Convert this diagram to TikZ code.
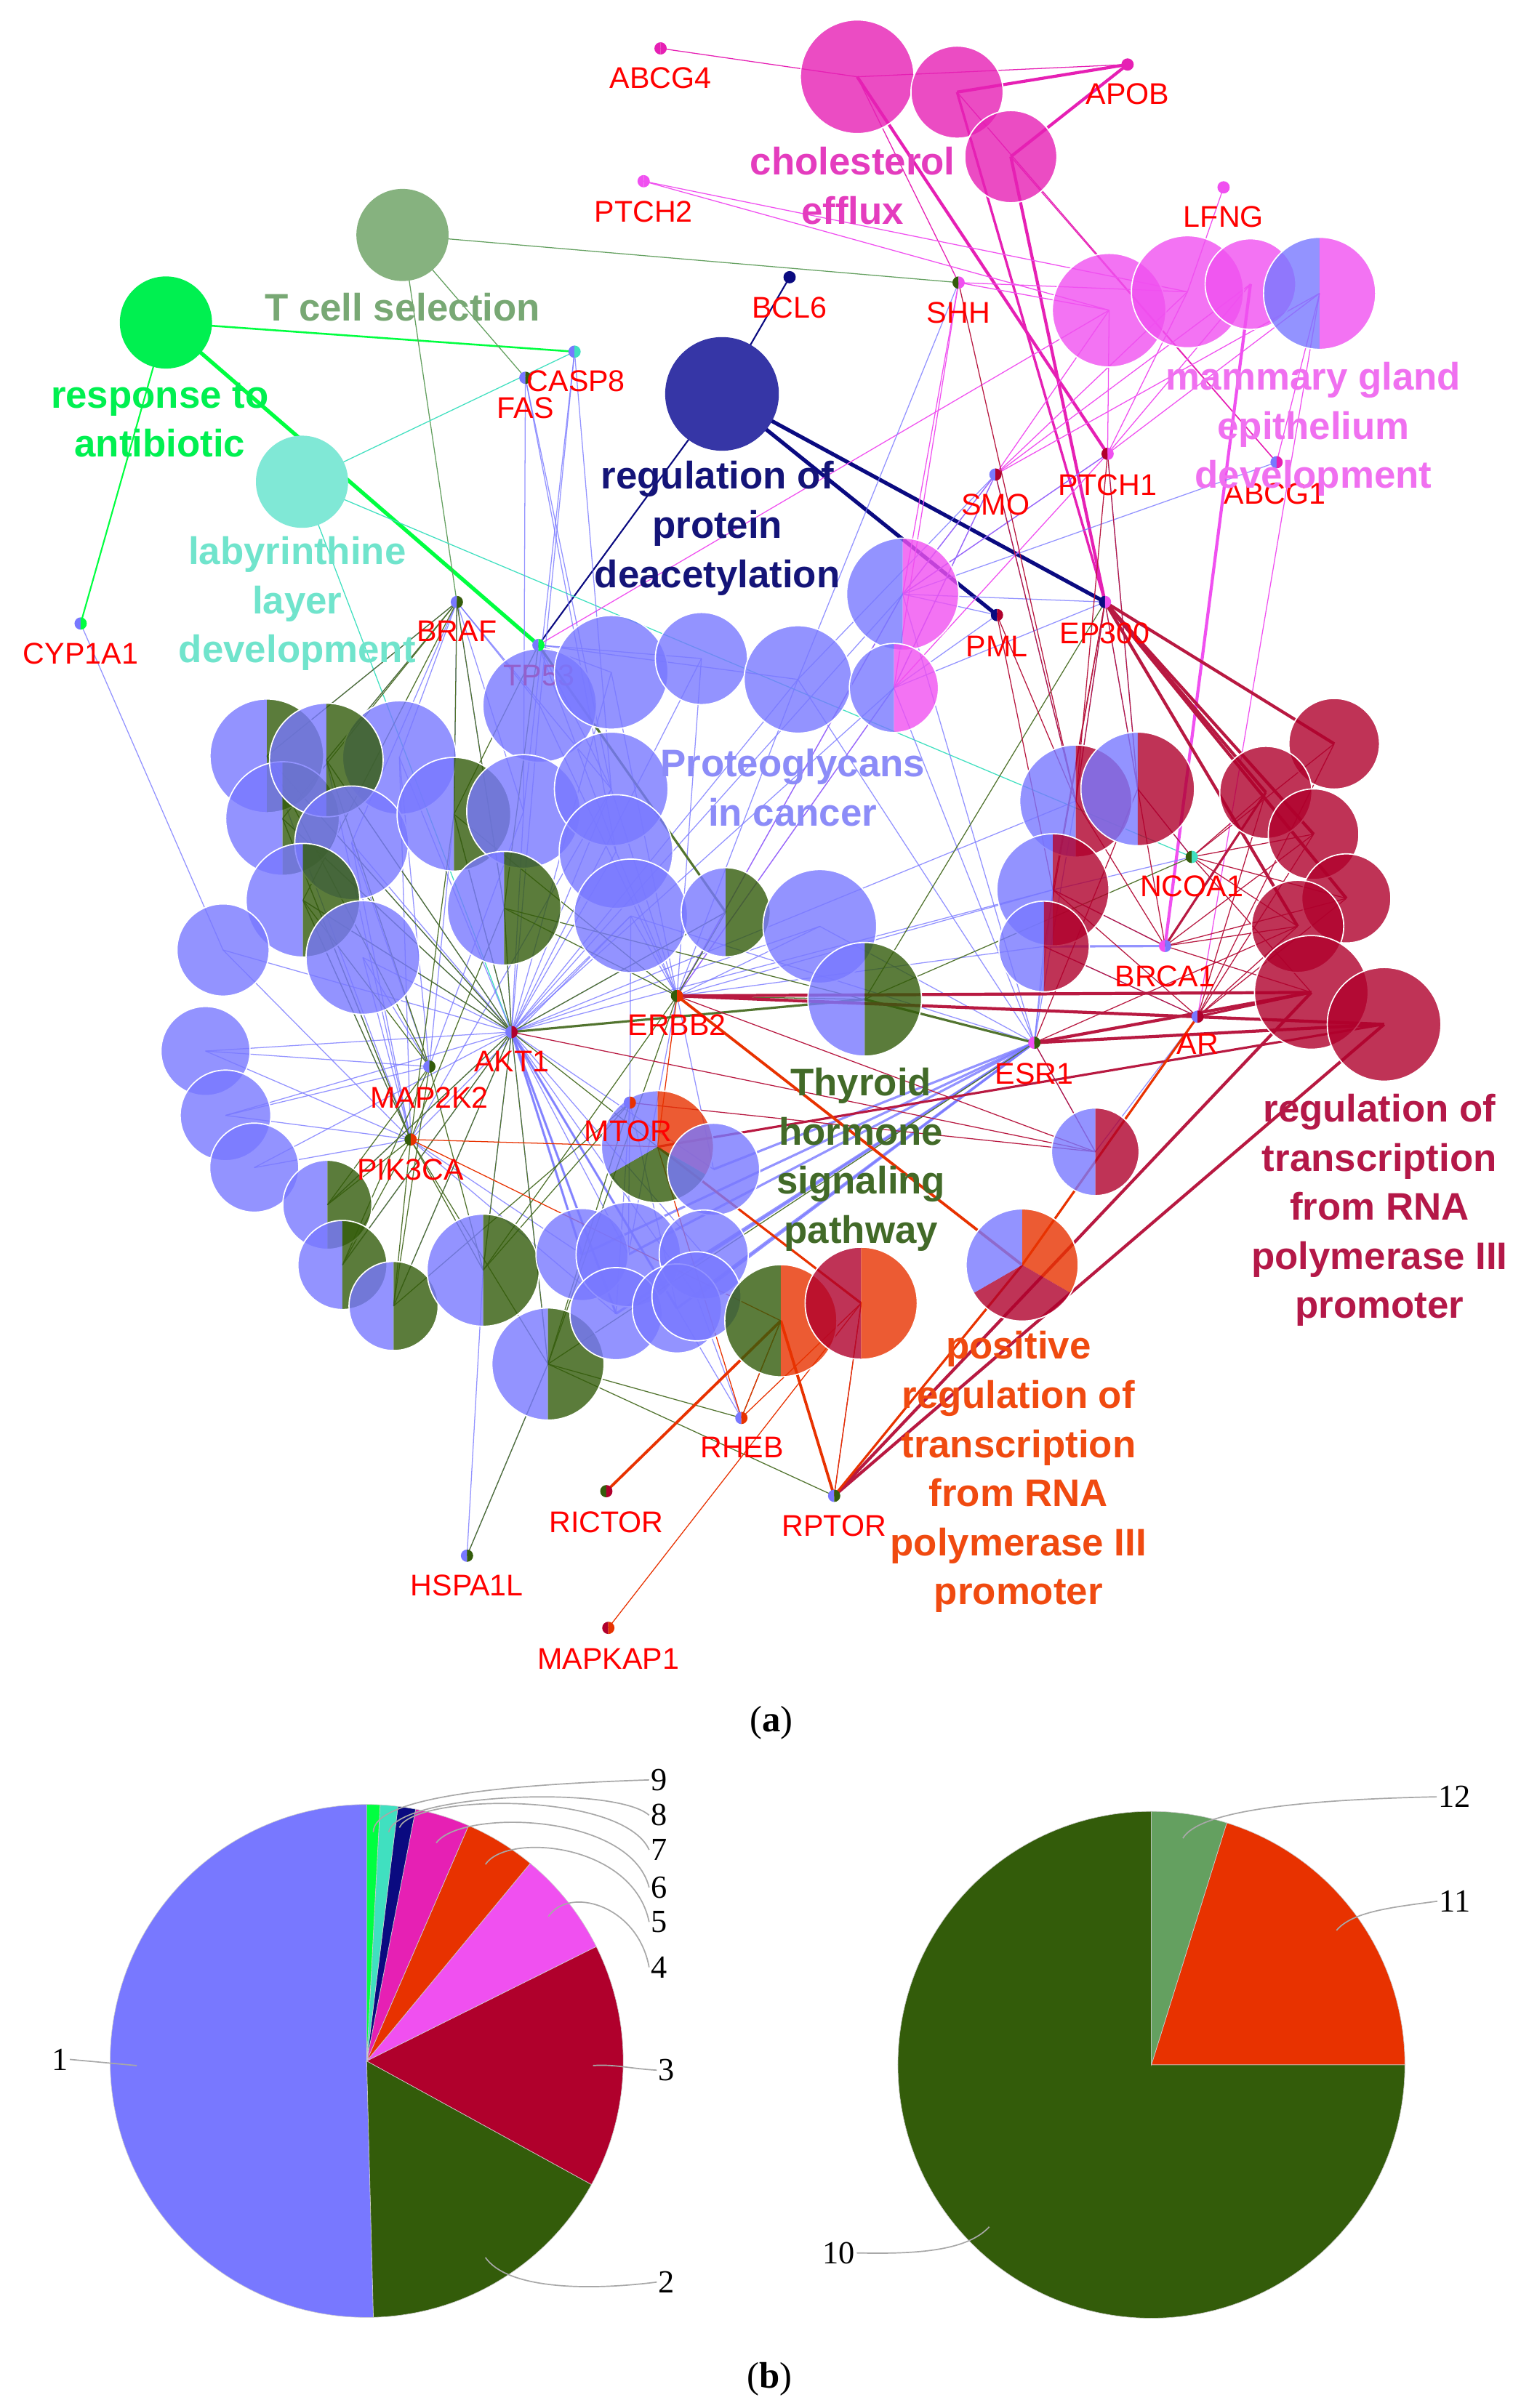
\documentclass[tikz,border=0pt]{standalone}
\usepackage{fontspec}
\setmainfont{Liberation Sans}
\newfontfamily\numfont{Liberation Serif}
\pgfdeclarelayer{paper}
\pgfdeclarelayer{bg}
\pgfsetlayers{paper,bg,main}
\definecolor{cblue}{HTML}{7878FF}
\definecolor{colive}{HTML}{335C0A}
\definecolor{ccrim}{HTML}{B0002C}
\definecolor{corange}{HTML}{E83200}
\definecolor{cviolet}{HTML}{F050F0}
\definecolor{cpink}{HTML}{E620B4}
\definecolor{cnavy}{HTML}{0A0A80}
\definecolor{cturq}{HTML}{40E0C0}
\definecolor{cgreen}{HTML}{00FF40}
\definecolor{ctcell}{HTML}{64A060}
\definecolor{ftcell}{HTML}{86B27F}
\definecolor{fturq}{HTML}{80E8D6}
\definecolor{fnavy}{HTML}{3636A6}
\definecolor{lpink}{HTML}{E43CBE}
\definecolor{ltcell}{HTML}{78A874}
\definecolor{lgreen}{HTML}{00F050}
\definecolor{lnavy}{HTML}{141478}
\definecolor{lviolet}{HTML}{F070F0}
\definecolor{lturq}{HTML}{70E4CC}
\definecolor{lblue}{HTML}{8C8CF8}
\definecolor{lolive}{HTML}{426A28}
\definecolor{lcrim}{HTML}{B41848}
\definecolor{lorange}{HTML}{F04A10}
\definecolor{gred}{HTML}{FF0000}
\definecolor{leader}{HTML}{A8A8A8}
\tikzset{
  e/.style={line width=0.6pt},
  eb/.style={e, draw=cblue, draw opacity=0.8},
  eg/.style={e, draw=colive!85!white},
  ec/.style={e, draw=ccrim!90!white},
  eo/.style={e, draw=corange},
  ev/.style={e, draw=cviolet},
  ep/.style={e, draw=cpink},
  en/.style={e, draw=cnavy},
  egr/.style={e, draw=cgreen},
  et/.style={e, draw=ctcell},
  etq/.style={e, draw=cturq},
  solo/.style={circle,minimum size=60pt,inner sep=0pt},
  glab/.style={text=gred, font=\fontsize{19.5}{22}\selectfont, inner sep=0pt},
  tlab/.style={font=\bfseries\fontsize{25}{32}\selectfont, align=center, inner sep=0pt},
  nlab/.style={font=\numfont\fontsize{21}{21}\selectfont, inner sep=1pt},
  lead/.style={draw=leader, line width=0.8pt},
  slice/.style={draw=gray!40, line width=0.3pt}
}
\newcommand{\fpie}[5]{%
  \node[circle,minimum size=#4*2pt,inner sep=0pt,fill=#5,fill opacity=0.8,draw=white,line width=0.8pt] (#1) at (#2,#3) {};}
\newcommand{\hpie}[6]{%
  \node[circle,minimum size=#4*2pt,inner sep=0pt] (#1) at (#2,#3) {};
  \begin{scope}[shift={(#2,#3)},yscale=-1]
    \fill[#5,fill opacity=0.8] (0,0) -- (90:#4) arc (90:270:#4) -- cycle;
    \fill[#6,fill opacity=0.8] (0,0) -- (90:#4) arc (90:-90:#4) -- cycle;
    \draw[white,line width=0.8pt] (0,0) circle (#4);
  \end{scope}}
\newcommand{\tpie}[7]{%
  \node[circle,minimum size=#4*2pt,inner sep=0pt] (#1) at (#2,#3) {};
  \begin{scope}[shift={(#2,#3)},yscale=-1]
    \fill[#5,fill opacity=0.8] (0,0) -- (90:#4) arc (90:-30:#4) -- cycle;
    \fill[#6,fill opacity=0.8] (0,0) -- (-30:#4) arc (-30:-150:#4) -- cycle;
    \fill[#7,fill opacity=0.8] (0,0) -- (-150:#4) arc (-150:-270:#4) -- cycle;
    \draw[white,line width=0.8pt] (0,0) circle (#4);
  \end{scope}}
\newcommand{\gdot}[5]{%
  \node[circle,minimum size=8pt,inner sep=0pt] (#1) at (#2,#3) {};
  \begin{scope}[shift={(#2,#3)},yscale=-1]
    \fill[#4] (0,0) -- (90:4) arc (90:270:4) -- cycle;
    \fill[#5] (0,0) -- (90:4) arc (90:-90:4) -- cycle;
  \end{scope}}
\newcommand{\pslice}[4]{\fill[#1,slice] (0,0) -- (#2:#4) arc (#2:#3:#4) -- cycle;}
\begin{document}
\begin{tikzpicture}[x=1pt,y=-1pt]
\useasboundingbox (0,0) rectangle (990,1568);
\begin{pgfonlayer}{paper}
\fill[white] (0,0) rectangle (990,1568);
\end{pgfonlayer}
% label hidden under circles
\node[glab] (l-tp53) at (351,440) {TP53};
% ---------- term circles ----------
\fpie{ch1}{558}{50}{37}{cpink}
\fpie{ch2}{623}{60}{30}{cpink}
\fpie{ch3}{658}{102}{30}{cpink}
\fpie{ma1}{722}{202}{37}{cviolet}
\fpie{ma2}{773}{190}{36.5}{cviolet}
\fpie{ma3}{814}{185}{29.5}{cviolet}
\hpie{ma4}{859}{191}{36.5}{cblue}{cviolet}
\node[solo,fill=ftcell] (tcell) at (262,153) {};
\node[solo,fill=lgreen] (resp) at (108,210) {};
\node[solo,fill=fturq] (laby) at (196.6,313.7) {};
\node[solo,minimum size=74pt,fill=fnavy] (deac) at (470,256.5) {};
% proteoglycans cluster
\fpie{p11}{351.3}{459.4}{37}{cblue}
\fpie{p12}{397.9}{437.8}{37}{cblue}
\fpie{p13}{456.6}{428.8}{30}{cblue}
\fpie{p19}{519.4}{442.4}{35}{cblue}
\hpie{v1}{587.6}{386.9}{36.5}{cblue}{cviolet}
\hpie{v2}{581.9}{448}{29}{cblue}{cviolet}
\hpie{g1}{173.7}{492.2}{37}{cblue}{colive}
\fpie{p3}{260}{493.3}{37}{cblue}
\hpie{g4}{183.9}{533}{37}{cblue}{colive}
\hpie{g2}{212.4}{494.9}{37}{cblue}{colive}
\fpie{p5}{228.9}{548.8}{37}{cblue}
\hpie{g6}{295.5}{530.2}{37}{cblue}{colive}
\fpie{p17}{340.8}{528.4}{37}{cblue}
\fpie{p14}{397.9}{513.7}{37}{cblue}
\fpie{p15}{401}{554.5}{37}{cblue}
\fpie{p16}{410.6}{596.4}{37}{cblue}
\hpie{g7}{328.2}{591.4}{37}{cblue}{colive}
\hpie{g8}{197.2}{586.2}{37}{cblue}{colive}
\fpie{p9}{236.2}{623.5}{37}{cblue}
\fpie{p10}{145.2}{618.6}{30}{cblue}
\hpie{g18}{472.4}{594}{29}{cblue}{colive}
\fpie{p20}{533.7}{603.2}{37}{cblue}
\hpie{g21}{562.9}{650.7}{37}{cblue}{colive}
\fpie{l1}{133.8}{684.4}{29}{cblue}
\fpie{l2}{146.8}{726.3}{29.5}{cblue}
\fpie{l3}{165.5}{760.3}{29}{cblue}
\hpie{g22}{213.1}{784.5}{29}{cblue}{colive}
\hpie{g23}{222.9}{823.7}{29}{cblue}{colive}
\hpie{g24}{256.2}{850.4}{29}{cblue}{colive}
\hpie{g25}{314.5}{827.1}{36.5}{cblue}{colive}
\hpie{g26}{356.7}{888.2}{36.5}{cblue}{colive}
\tpie{mt}{428}{746.7}{36.5}{corange}{colive}{cblue}
\fpie{k7}{464.5}{761.4}{30}{cblue}
\fpie{k1}{378.9}{816.9}{30}{cblue}
\fpie{k2}{409}{816.9}{34}{cblue}
\fpie{k5}{458.1}{816.9}{29}{cblue}
\fpie{k3}{401}{855.4}{30}{cblue}
\fpie{k4}{440.7}{852}{29}{cblue}
\fpie{k6}{453.4}{844.1}{29}{cblue}
\hpie{o1}{508.3}{860}{36.5}{colive}{corange}
\hpie{o2}{560.6}{848.6}{36.5}{ccrim}{corange}
\tpie{o3}{665.4}{823.7}{36.5}{corange}{ccrim}{cblue}
\hpie{r5}{713}{750}{28.5}{cblue}{ccrim}
% right cluster
\hpie{r1}{700.3}{521.6}{36.5}{cblue}{ccrim}
\hpie{r2}{740.6}{513.7}{37}{cblue}{ccrim}
\hpie{r3}{685.4}{579.4}{36.5}{cblue}{ccrim}
\hpie{r4}{679.6}{616.3}{29.5}{cblue}{ccrim}
\fpie{c2}{868.5}{484.3}{29.5}{ccrim}
\fpie{c1}{824}{516}{30}{ccrim}
\fpie{c3}{855.1}{543.2}{29.5}{ccrim}
\fpie{c4}{876.4}{585}{29}{ccrim}
\fpie{c5}{844.7}{603.2}{30}{ccrim}
\fpie{c6}{853.6}{646.2}{37}{ccrim}
\fpie{c7}{901}{667}{37}{ccrim}
% ---------- gene nodes ----------
\gdot{abcg4}{430}{31.5}{cpink}{cpink}
\gdot{apob}{734}{42}{cpink}{cpink}
\gdot{ptch2}{419}{118}{cviolet}{cviolet}
\gdot{lfng}{796.5}{122}{cviolet}{cviolet}
\gdot{bcl6}{514}{180.5}{cnavy}{cnavy}
\gdot{shh}{624}{184}{colive}{cviolet}
\gdot{casp8}{374}{229}{cblue}{cturq}
\gdot{fas}{342}{246}{cblue}{colive}
\gdot{smo}{648}{309}{cblue}{ccrim}
\gdot{ptch1}{721}{295.5}{ccrim}{cviolet}
\gdot{abcg1}{831}{301}{cblue}{cpink}
\gdot{cyp1a1}{52.5}{406}{cblue}{cgreen}
\gdot{braf}{297.4}{392}{cblue}{colive}
\gdot{tp53}{350.5}{420}{cblue}{cgreen}
\gdot{pml}{649}{400.5}{cnavy}{ccrim}
\gdot{ep300}{719.3}{392}{cnavy}{cviolet}
\gdot{ncoa1}{775.8}{558}{colive}{cturq}
\gdot{brca1}{758.4}{616}{cviolet}{cblue}
\gdot{ar}{779.6}{662}{cblue}{ccrim}
\gdot{erbb2}{440.7}{648.5}{colive}{corange}
\gdot{akt1}{333}{672}{cblue}{ccrim}
\gdot{esr1}{673.3}{679}{cviolet}{colive}
\gdot{map2k2}{279.5}{694.5}{cblue}{colive}
\gdot{mtor}{410}{718}{cblue}{corange}
\gdot{pik3ca}{267.3}{742}{colive}{corange}
\gdot{rheb}{482.6}{923.3}{cblue}{corange}
\gdot{rictor}{394.7}{971}{colive}{ccrim}
\gdot{rptor}{543}{974}{cblue}{colive}
\gdot{hspa1l}{304}{1013}{cblue}{colive}
\gdot{mapkap1}{396}{1060}{ccrim}{corange}
% ---------- gene labels ----------
\node[glab] (l-abcg4) at (430,51) {ABCG4};
\node[glab] (l-apob) at (734,61) {APOB};
\node[glab] (l-ptch2) at (419,138) {PTCH2};
\node[glab] (l-lfng) at (796.5,141) {LFNG};
\node[glab] (l-bcl6) at (514,200.5) {BCL6};
\node[glab] (l-shh) at (624,203.5) {SHH};
\node[glab] (l-casp8) at (375,248) {CASP8};
\node[glab] (l-fas) at (342,265.5) {FAS};
\node[glab] (l-smo) at (648,328.5) {SMO};
\node[glab] (l-ptch1) at (721,316) {PTCH1};
\node[glab] (l-abcg1) at (830,321.5) {ABCG1};
\node[glab] (l-cyp1a1) at (52.5,425.5) {CYP1A1};
\node[glab] (l-braf) at (297.4,411) {BRAF};
\node[glab] (l-pml) at (649,421) {PML};
\node[glab] (l-ep300) at (719.3,412.5) {EP300};
\node[glab] (l-ncoa1) at (775.8,577) {NCOA1};
\node[glab] (l-brca1) at (758.4,636) {BRCA1};
\node[glab] (l-ar) at (779.6,680) {AR};
\node[glab] (l-erbb2) at (440.7,667.5) {ERBB2};
\node[glab] (l-akt1) at (333,691) {AKT1};
\node[glab] (l-esr1) at (673.3,699) {ESR1};
\node[glab] (l-map2k2) at (279.5,714.5) {MAP2K2};
\node[glab] (l-mtor) at (409,736.5) {MTOR};
\node[glab] (l-pik3ca) at (267.3,761.5) {PIK3CA};
\node[glab] (l-rheb) at (483,942.5) {RHEB};
\node[glab] (l-rictor) at (394.7,991) {RICTOR};
\node[glab] (l-rptor) at (543,993.5) {RPTOR};
\node[glab] (l-hspa1l) at (304,1032.5) {HSPA1L};
\node[glab] (l-mapkap1) at (396,1080) {MAPKAP1};
% ---------- term labels ----------
\node[tlab, text=lpink] (t-chol) at (555,121) {cholesterol\\efflux};
\node[tlab, text=ltcell] (t-tcell) at (262,200) {T cell selection};
\node[tlab, text=lgreen] (t-resp) at (104,273.5) {response to\\antibiotic};
\node[tlab, text=lnavy] (t-deac) at (467,344) {regulation of\\protein\\deacetylation};
\node[tlab, text=lviolet] (t-mam) at (855,279.5) {mammary gland\\epithelium\\development};
\node[tlab, text=lturq] (t-laby) at (193.5,393) {labyrinthine\\layer\\development};
\node[tlab, text=lblue] (t-prot) at (516,513) {Proteoglycans\\in cancer};
\node[tlab, text=lolive] (t-thy) at (560.5,755) {Thyroid\\hormone\\signaling\\pathway};
\node[tlab, text=lcrim] (t-rna3) at (898,788) {regulation of\\transcription\\from RNA\\polymerase III\\promoter};
\node[tlab, text=lorange] (t-pos) at (663,958.5) {positive\\regulation of\\transcription\\from RNA\\polymerase III\\promoter};
% ---------- edges ----------
\begin{pgfonlayer}{bg}
% navy
\draw[en, line width=2.5pt] (deac.center) -- (pml.center);
\draw[en, line width=2.5pt] (deac.center) -- (ep300.center);
\draw[en, line width=1pt] (deac.center) -- (bcl6.center);
\draw[en, line width=1pt] (deac.center) -- (tp53.center);
% antibiotic
\draw[egr, line width=2.5pt] (resp.center) -- (tp53.center);
\draw[egr, line width=1.2pt] (resp.center) -- (casp8.center);
\draw[egr, line width=1pt] (resp.center) -- (cyp1a1.center);
% T cell
\draw[et] (tcell.center) -- (shh.center);
\draw[et] (tcell.center) -- (fas.center);
\draw[et] (tcell.center) -- (braf.center);
% labyrinthine
\draw[etq] (laby.center) -- (casp8.center);
\draw[etq] (laby.center) -- (ncoa1.center);
\draw[etq] (laby.center) -- (akt1.center);
% cholesterol
\draw[ep] (ch1.center) -- (abcg4.center);
\draw[ep] (ch1.center) -- (apob.center);
\draw[ep, line width=2pt] (ch2.center) -- (apob.center);
\draw[ep, line width=2pt] (ch3.center) -- (apob.center);
\draw[ep, line width=2pt] (ch1.center) -- (ptch1.center);
\draw[ep, line width=1.6pt] (ch2.center) -- (ep300.center);
\draw[ep, line width=2pt] (ch3.center) -- (ep300.center);
\draw[ep] (ch1.center) -- (shh.center);
\draw[ep] (ch2.center) -- (abcg1.center);
\draw[ep] (ch3.center) -- (abcg1.center);
% mammary
\foreach \n in {ptch2,smo,ptch1,shh,tp53} \draw[ev] (ma1.center) -- (\n.center);
\foreach \n in {lfng,smo,ptch1,shh,ptch2} \draw[ev] (ma2.center) -- (\n.center);
\foreach \n in {smo,ptch1} \draw[ev] (ma3.center) -- (\n.center);
\draw[ev, line width=2pt] (ma3.center) -- (brca1.center);
\foreach \n in {smo,ptch1,ar,abcg1} \draw[ev] (ma4.center) -- (\n.center);
\foreach \n in {smo,ptch1,shh,erbb2} \draw[ev] (v1.center) -- (\n.center);
\foreach \n in {smo,ptch1,shh,erbb2} \draw[ev] (v2.center) -- (\n.center);
% blue
\foreach \n in {p3,p5,p9,p10,p11,p12,p13,p14,p15,p16,p17,p19,p20,l1,l2,l3,k1,k2,k3,k4,k5,k6,k7,g1,g2,g4,g6,g7,g8,g18,g21,g22,g23,g24,g25,g26,v1,v2,r1,r3} \draw[eb] (akt1.center) -- (\n.center);
\foreach \n in {k1,k3,k4} \draw[eb, line width=1.5pt] (akt1.center) -- (\n.center);
\foreach \n in {p3,p5,p9,p10,l1,l2,l3,k1,k3,p14,p16,g1,g2,g4,g8} \draw[eb] (pik3ca.center) -- (\n.center);
\foreach \n in {p3,p5,p9,l1,l2,p17,g6} \draw[eb] (map2k2.center) -- (\n.center);
\foreach \n in {p3,p5,p11,p14,p17,g1,g2,g6,g7} \draw[eb] (braf.center) -- (\n.center);
\foreach \n in {p11,p12,p13,p14,p15,p16,p19,p20,k2,k7,v1,v2,r3,r4} \draw[eb] (erbb2.center) -- (\n.center);
\foreach \n in {p12,p13,p19,p14,p15} \draw[eb] (tp53.center) -- (\n.center);
\foreach \n in {k1,k2,k3,k4,k5,k6,k7} \draw[eb, line width=1.5pt] (esr1.center) -- (\n.center);
\foreach \n in {p20,g21,r1,r3,r4,r5,v1,v2,p19,p16} \draw[eb] (esr1.center) -- (\n.center);
\foreach \n in {k2,k3,k4,p16} \draw[eb] (mtor.center) -- (\n.center);
\foreach \n in {p11,p17,p14} \draw[eb] (casp8.center) -- (\n.center);
\foreach \n in {p14,p15,p17} \draw[eb] (fas.center) -- (\n.center);
\draw[eb] (cyp1a1.center) -- (p10.center);
\foreach \n in {g25,g26} \draw[eb] (hspa1l.center) -- (\n.center);
\foreach \n in {k4,k6} \draw[eb] (rheb.center) -- (\n.center);
\foreach \n in {v1,v2,p19,r1} \draw[eb] (smo.center) -- (\n.center);
\draw[eb] (ptch1.center) -- (v1.center);
\draw[eb] (ptch1.center) -- (r2.center);
\draw[eb] (abcg1.center) -- (v1.center);
\draw[eb] (shh.center) -- (p19.center);
\foreach \n in {v1,v2,r1,r2} \draw[eb] (ep300.center) -- (\n.center);
\foreach \n in {v1,v2} \draw[eb] (pml.center) -- (\n.center);
\foreach \n in {r2,r3} \draw[eb] (ncoa1.center) -- (\n.center);
\draw[eb, line width=1.5pt] (brca1.center) -- (r4.center);
\draw[eb] (brca1.center) -- (r3.center);
\foreach \n in {r4,r5} \draw[eb] (ar.center) -- (\n.center);
% olive
\foreach \n in {g1,g2,g4,g6,g7,g8,g18,g22,g23,g24,g25,g26,mt} \draw[eg] (akt1.center) -- (\n.center);
\foreach \n in {g1,g2,g4,g6,g7,g8} \draw[eg] (braf.center) -- (\n.center);
\foreach \n in {g1,g2,g8,g22,g23,g24,g25} \draw[eg] (map2k2.center) -- (\n.center);
\foreach \n in {g4,g6,g7,g8,g22,g23,g24,g25,g26} \draw[eg] (pik3ca.center) -- (\n.center);
\foreach \n in {g6,g7,g18,g21,g25,g26} \draw[eg] (erbb2.center) -- (\n.center);
\foreach \n in {g6,g7} \draw[eg] (tp53.center) -- (\n.center);
\draw[eg, line width=1.5pt] (tp53.center) -- (g18.center);
\draw[eg, line width=1.5pt] (esr1.center) -- (g21.center);
\draw[eg, line width=1.5pt] (akt1.center) -- (g21.center);
\foreach \n in {g7,g26} \draw[eg] (esr1.center) -- (\n.center);
\foreach \n in {g24,g25,g26} \draw[eg] (mtor.center) -- (\n.center);
\foreach \n in {g26,o1} \draw[eg] (rheb.center) -- (\n.center);
\draw[eg] (hspa1l.center) -- (g26.center);
\draw[eg] (ncoa1.center) -- (g21.center);
\draw[eg] (ep300.center) -- (g21.center);
\draw[eg] (rptor.center) -- (g26.center);
\draw[eg] (rptor.center) -- (o1.center);
% crimson
\foreach \n in {c1,c2,c3,c4,c5} \draw[ec, line width=2pt] (ep300.center) -- (\n.center);
\foreach \n in {c6,c7} {
  \draw[ec, line width=2pt] (erbb2.center) -- (\n.center);
  \draw[ec, line width=2pt] (esr1.center) -- (\n.center);
  \draw[ec, line width=2pt] (rptor.center) -- (\n.center);
  \draw[ec, line width=1.5pt] (ar.center) -- (\n.center);
}
\draw[ec, line width=1.5pt] (mt.center) -- (c7.center);
\draw[ec, line width=1.5pt] (brca1.center) -- (c1.center);
\foreach \n in {r1,r2,r3,r4} \draw[ec] (ep300.center) -- (\n.center);
\foreach \n in {r1,r3} \draw[ec] (pml.center) -- (\n.center);
\draw[ec] (smo.center) -- (r1.center);
\draw[ec] (shh.center) -- (r1.center);
\foreach \n in {r1,r2} \draw[ec] (ptch1.center) -- (\n.center);
\foreach \n in {c1,c2,c3,c4,c5,c6,r2} \draw[ec] (ncoa1.center) -- (\n.center);
\foreach \n in {c3,c4,c5,c6,r1,r2,r3} \draw[ec] (brca1.center) -- (\n.center);
\foreach \n in {c1,c2,c3,c4,c5,r3,r4} \draw[ec] (ar.center) -- (\n.center);
\foreach \n in {r5,c5,r2} \draw[ec] (esr1.center) -- (\n.center);
\draw[ec] (erbb2.center) -- (r5.center);
\draw[ec] (mtor.center) -- (r5.center);
\draw[ec] (akt1.center) -- (r5.center);
\draw[ec] (rptor.center) -- (o2.center);
% orange
\draw[eo, line width=1.8pt] (erbb2.center) -- (o3.center);
\draw[eo, line width=1.8pt] (o1.center) -- (rictor.center);
\draw[eo, line width=1.8pt] (o1.center) -- (rptor.center);
\draw[eo, line width=1.5pt] (o3.center) -- (rptor.center);
\draw[eo, line width=1.5pt] (o3.center) -- (ar.center);
\draw[eo, line width=1.5pt] (mt.center) -- (o2.center);
\draw[eo] (mt.center) -- (pik3ca.center);
\draw[eo] (mt.center) -- (rheb.center);
\draw[eo] (o1.center) -- (rheb.center);
\draw[eo] (o2.center) -- (rheb.center);
\draw[eo] (o2.center) -- (rptor.center);
\draw[eo] (o2.center) -- (mapkap1.center);
\draw[eo] (pik3ca.center) -- (o1.center);
\draw[eo] (erbb2.center) -- (mt.center);
\end{pgfonlayer}
% ---------- captions ----------
\node[font=\numfont\fontsize{24}{24}\selectfont, inner sep=0pt] (capa) at (502,1122) {(\textbf{a})};
\node[font=\numfont\fontsize{24}{24}\selectfont, inner sep=0pt] (capb) at (501,1549) {(\textbf{b})};
% ---------- left pie ----------
\begin{scope}[shift={(238.7,1342)},yscale=-1]
  \pslice{cblue}{-88.5}{-270}{167}
  \pslice{colive}{-28.8}{-88.5}{167}
  \pslice{ccrim}{26.5}{-28.8}{167}
  \pslice{cviolet}{50.4}{26.5}{167}
  \pslice{corange}{66.6}{50.4}{167}
  \pslice{cpink}{79}{66.6}{167}
  \pslice{cnavy}{83}{79}{167}
  \pslice{cturq}{87}{83}{167}
  \pslice{cgreen}{90}{87}{167}
\end{scope}
% ---------- right pie ----------
\begin{scope}[shift={(749.5,1344.5)},yscale=-1]
  \pslice{colive}{0}{-270}{165}
  \pslice{corange}{72.7}{0}{165}
  \pslice{ctcell}{90}{72.7}{165}
\end{scope}
% ---------- pie labels ----------
\node[nlab] (n9) at (429,1159) {9};
\node[nlab] (n8) at (429,1182) {8};
\node[nlab] (n7) at (429,1204.5) {7};
\node[nlab] (n6) at (429,1229) {6};
\node[nlab] (n5) at (429,1251.5) {5};
\node[nlab] (n4) at (429,1281) {4};
\node[nlab] (n3) at (434,1348) {3};
\node[nlab] (n2) at (434,1486) {2};
\node[nlab] (n1) at (39,1341) {1};
\node[nlab] (n12) at (947,1170) {12};
\node[nlab] (n11) at (947,1238) {11};
\node[nlab] (n10) at (546,1467) {10};
\draw[lead] (243,1193) .. controls (243,1170) and (330,1162) .. (n9.west);
\draw[lead] (253,1193) .. controls (258,1168) and (400,1162) .. (n8.west);
\draw[lead] (260,1190) .. controls (270,1168) and (405,1166) .. (n7.west);
\draw[lead] (284,1200) .. controls (300,1178) and (410,1180) .. (n6.west);
\draw[lead] (316,1214) .. controls (330,1193) and (412,1200) .. (n5.west);
\draw[lead] (357,1248) .. controls (370,1228) and (415,1240) .. (n4.west);
\draw[lead] (386,1345) .. controls (400,1344) and (410,1347) .. (n3.west);
\draw[lead] (316,1470) .. controls (330,1490) and (380,1492) .. (n2.west);
\draw[lead] (89,1345) -- (n1.east);
\draw[lead] (770,1197) .. controls (780,1180) and (840,1172) .. (n12.west);
\draw[lead] (870,1257) .. controls (880,1245) and (905,1242) .. (n11.west);
\draw[lead] (644,1450) .. controls (630,1465) and (600,1468) .. (n10.east);
\end{tikzpicture}
\end{document}
